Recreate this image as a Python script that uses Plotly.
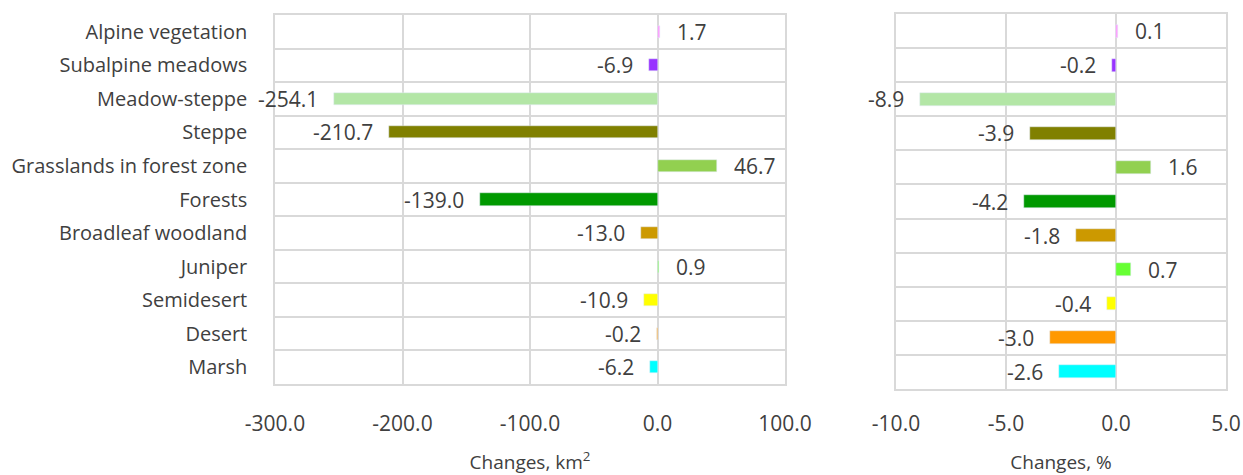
import plotly.graph_objects as go

# Data
categories = [
    "Alpine vegetation",
    "Subalpine meadows",
    "Meadow-steppe",
    "Steppe",
    "Grasslands in forest zone",
    "Forests",
    "Broadleaf woodland",
    "Juniper",
    "Semidesert",
    "Desert",
    "Marsh",
]
change_km2 = [1.7, -6.9, -254.1, -210.7, 46.7, -139.0, -13.0, 0.9, -10.9, -0.2, -6.2]
change_pct = [0.1, -0.2, -8.9, -3.9, 1.6, -4.2, -1.8, 0.7, -0.4, -3.0, -2.6]
colors = [
    "#FF99FF", "#9933FF", "#B3E6A6", "#808000", "#92D050", "#009900",
    "#CC9900", "#66FF33", "#FFFF00", "#FF9900", "#00FFFF",
]
left_ticks = [-300, -200, -100, 0, 100]
right_ticks = [-10, -5, 0, 5]

W, H = 1243, 475
grid = "#D9D9D9"
text_col = "#404040"
FONT = "Open Sans"


def xdom(a, b):
    return [a / W, b / W]


def ydom(top, bottom):
    return [1 - bottom / H, 1 - top / H]


fig = go.Figure()
fig.add_trace(go.Bar(
    x=change_km2, y=categories, orientation="h", marker_color=colors,
    width=0.36, xaxis="x", yaxis="y", showlegend=False, hoverinfo="x+y",
))
fig.add_trace(go.Bar(
    x=change_pct, y=categories, orientation="h", marker_color=colors,
    width=0.38, xaxis="x2", yaxis="y2", showlegend=False, hoverinfo="x+y",
))

# Data labels, Excel style "outside end"
annotations = []
for xs, xref, yref in [(change_km2, "x", "y"), (change_pct, "x2", "y2")]:
    for cat, v in zip(categories, xs):
        annotations.append(dict(
            x=v, y=cat, xref=xref, yref=yref, text=f"{v:.1f}",
            showarrow=False, xanchor="left" if v >= 0 else "right",
            xshift=15 if v >= 0 else -14,
            font=dict(family=FONT, size=21, color=text_col),
        ))

axis_common = dict(
    showgrid=True, gridcolor=grid, gridwidth=1.5,
    showline=True, linecolor=grid, linewidth=1.5, mirror=True,
    zeroline=False, fixedrange=True,
    tickfont=dict(family=FONT, size=21, color=text_col),
)

fig.update_layout(
    width=W, height=H,
    margin=dict(l=0, r=0, t=0, b=0),
    paper_bgcolor="white", plot_bgcolor="white",
    bargap=0,
    annotations=annotations,
    xaxis=dict(
        axis_common, domain=xdom(275, 785), anchor="y",
        range=[-300, 100], tickvals=left_ticks,
        ticktext=[f"{t:.1f}" for t in left_ticks],
        ticks="outside", tickcolor="rgba(0,0,0,0)", ticklen=20,
        title=dict(text="Changes, km<sup>2</sup>", standoff=20,
                   font=dict(family=FONT, size=19, color=text_col)),
        automargin=False,
    ),
    yaxis=dict(
        axis_common, domain=ydom(15, 384), anchor="x",
        type="category", categoryorder="array", categoryarray=categories[::-1],
        tickson="boundaries", ticks="", ticklabelstandoff=22,
        tickfont=dict(family=FONT, size=20, color=text_col),
        automargin=False,
    ),
    xaxis2=dict(
        axis_common, domain=xdom(896, 1226), anchor="y2",
        range=[-10, 5], tickvals=right_ticks,
        ticktext=[f"{t:.1f}" for t in right_ticks],
        ticks="outside", tickcolor="rgba(0,0,0,0)", ticklen=15,
        title=dict(text="Changes, %", standoff=20,
                   font=dict(family=FONT, size=19, color=text_col)),
        automargin=False,
    ),
    yaxis2=dict(
        axis_common, domain=ydom(14, 389), anchor="x2",
        type="category", categoryorder="array", categoryarray=categories[::-1],
        tickson="boundaries", ticks="", showticklabels=False, automargin=False,
    ),
)

# drop the default body margin so the figure fills the window exactly
fig.write_html(
    "out.html",
    config={"displayModeBar": False},
    post_script="document.body.style.margin='0';document.body.style.overflow='hidden';",
)
